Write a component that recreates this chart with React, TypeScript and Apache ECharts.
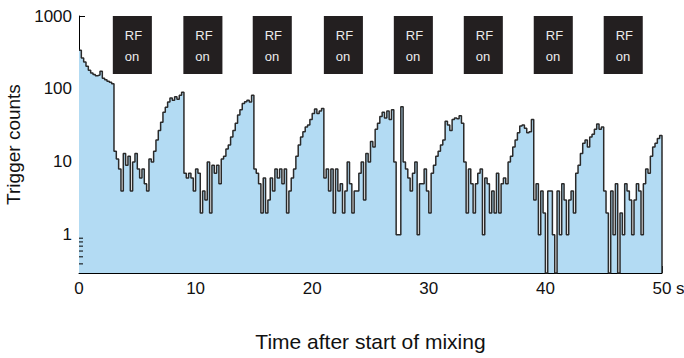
import React, { useEffect, useRef } from 'react';
import * as echarts from 'echarts';

// Histogram bin width (seconds)
const binWidth = 0.2;

// Trigger counts per 0.2 s bin (0 = empty bin)
const initialCounts = [340, 265, 235, 205, 180, 165, 158, 152, 155, 175, 140, 134, 128, 124, 118];
const cycle1 = [14, 11, 8, 4, 13, 9, 12, 4, 10, 13, 8, 6, 8, 5, 4, 11, 10, 14, 20, 27, 35, 48, 56, 66, 75, 70, 78, 72, 82, 90];
const cycle2 = [7, 6, 7, 6, 4, 8, 7, 2, 4, 3, 10, 2, 9, 7, 9, 5, 11, 12, 15, 17, 22, 27, 34, 44, 52, 63, 67, 70, 66, 82];
const cycle3 = [8, 7, 5, 2, 6, 2, 3, 6, 4, 8, 6, 8, 5, 8, 2, 4, 6, 8, 12, 17, 22, 26, 30, 32, 38, 46, 53, 46, 50, 54];
const cycle4 = [6, 8, 4, 8, 2, 8, 4, 5, 2, 4, 10, 5, 2, 4, 4, 7, 10, 3, 13, 10, 19, 16, 28, 34, 42, 48, 40, 50, 38, 52];
const cycle5 = [10, 1, 1, 57, 10, 8, 6, 4, 7, 10, 1, 5, 5, 8, 4, 2, 7, 9, 12, 14, 17, 20, 36, 32, 27, 38, 40, 39, 43, 34];
const cycle6 = [10, 2, 8, 5, 2, 5, 7, 8, 1, 6, 5, 2, 4, 2, 7, 2, 5, 6, 5, 10, 12, 16, 20, 25, 31, 32, 29, 25, 26, 38];
const cycle7 = [3, 5, 1, 4, 2, 0, 4, 4, 1, 0, 4, 1, 5, 3, 1, 3, 4, 2, 7, 9, 13, 18, 20, 16, 22, 24, 28, 33, 28, 30];
const finalCounts = [4, 2, 0, 4, 1, 5, 0, 2, 1, 5, 4, 3, 1, 3, 5, 4, 1, 5, 8, 7, 12, 16, 18, 21, 23];

// "RF on" periods (seconds)
const rfStart = [2.9, 8.95, 14.9, 21.0, 27.0, 33.0, 39.0, 45.0];
const rfEnd = [6.25, 12.3, 18.25, 24.35, 30.35, 36.35, 42.35, 48.35];

// Axis extents and ticks
const xMin = 0;
const xMax = 50;
const xInterval = 10;
const yMin = 0.3;
const yMax = 1000;
const yMinorTicks = [0.4, 0.5, 0.6, 0.7, 0.8, 0.9];

const FONT = 'Liberation Sans, Arial, Helvetica, sans-serif';

export default function App() {
  const ref = useRef<HTMLDivElement>(null);

  useEffect(() => {
    if (!ref.current) return;
    const chart = echarts.init(ref.current, null, { renderer: 'svg' });

    const counts = [
      ...initialCounts, ...cycle1, ...cycle2, ...cycle3, ...cycle4,
      ...cycle5, ...cycle6, ...cycle7, ...finalCounts,
    ];
    const lineData: number[][] = counts.map((c, i) => [i * binWidth, c > 0 ? c : yMin]);
    const endT = counts.length * binWidth;
    const lastVal = counts[counts.length - 1];
    lineData.push([endT, lastVal > 0 ? lastVal : yMin]);
    lineData.push([endT, yMin]);

    const option: any = {
      animation: false,
      backgroundColor: '#ffffff',
      grid: { left: 79, right: 22, top: 16, bottom: 85, outerBoundsMode: 'none', containLabel: false },
      xAxis: {
        type: 'value',
        min: xMin,
        max: xMax,
        interval: xInterval,
        name: 'Time after start of mixing',
        nameLocation: 'middle',
        nameGap: 58,
        nameTextStyle: { fontFamily: FONT, fontSize: 21, color: '#111' },
        axisLine: { show: true, onZero: false, lineStyle: { color: '#000', width: 1 } },
        axisTick: { show: true, inside: true, length: 7, lineStyle: { color: '#000', width: 1 } },
        minorTick: { show: true, splitNumber: 5, length: 4, lineStyle: { color: '#000', width: 1 } },
        splitLine: { show: false },
        minorSplitLine: { show: false },
        axisLabel: {
          fontFamily: FONT,
          fontSize: 17,
          color: '#111',
          margin: 7,
          formatter: (v: number) => (v === xMax ? '{p|}' + v + ' s' : String(v)),
          rich: { p: { width: 13, fontSize: 17, fontFamily: FONT } },
        },
      },
      yAxis: {
        type: 'log',
        logBase: 10,
        min: yMin,
        max: yMax,
        name: 'Trigger counts',
        nameLocation: 'middle',
        nameGap: 50,
        nameTextStyle: { fontFamily: FONT, fontSize: 19, color: '#111' },
        axisLine: { show: true, lineStyle: { color: '#000', width: 1 } },
        axisTick: { show: true, inside: true, length: 6, lineStyle: { color: '#000', width: 1 } },
        splitLine: { show: false },
        axisLabel: {
          fontFamily: FONT,
          fontSize: 17,
          color: '#111',
          margin: 7,
          showMinLabel: false,
          formatter: (v: number) => {
            const e = Math.log10(v);
            return Math.abs(e - Math.round(e)) < 1e-6 ? String(Math.round(v)) : '';
          },
        },
      },
      series: [
        {
          type: 'line',
          data: lineData,
          step: 'end',
          showSymbol: false,
          symbol: 'none',
          lineStyle: { color: '#2a2a2a', width: 1.5 },
          areaStyle: { color: '#b3dbf3', opacity: 1, origin: 'start' },
          z: 2,
        },
        {
          type: 'custom',
          data: yMinorTicks.map((v) => [xMin, v]),
          encode: { x: 0, y: 1 },
          z: 5,
          renderItem: (_params: any, api: any) => {
            const p = api.coord([api.value(0), api.value(1)]);
            return {
              type: 'line',
              shape: { x1: p[0], y1: p[1], x2: p[0] + 4, y2: p[1] },
              style: { stroke: '#000', lineWidth: 1 },
            };
          },
        },
        {
          type: 'custom',
          data: rfStart.map((s, i) => [s, rfEnd[i], yMax]),
          encode: { x: [0, 1], y: 2 },
          z: 6,
          renderItem: (_params: any, api: any) => {
            const p0 = api.coord([api.value(0), api.value(2)]);
            const p1 = api.coord([api.value(1), api.value(2)]);
            return {
              type: 'group',
              children: [
                {
                  type: 'rect',
                  shape: { x: p0[0], y: p0[1], width: p1[0] - p0[0], height: 58 },
                  style: { fill: '#231f20' },
                },
                {
                  type: 'text',
                  x: p0[0] + 12,
                  y: p0[1] + 19,
                  style: {
                    text: 'RF', fill: '#ececec', fontSize: 13, fontFamily: FONT,
                    verticalAlign: 'middle', align: 'left',
                  },
                },
                {
                  type: 'text',
                  x: p0[0] + 12,
                  y: p0[1] + 40,
                  style: {
                    text: 'on', fill: '#ececec', fontSize: 13, fontFamily: FONT,
                    verticalAlign: 'middle', align: 'left',
                  },
                },
              ],
            };
          },
        },
      ],
    };

    chart.setOption(option);
    return () => chart.dispose();
  }, []);

  return (
    <div
      ref={ref}
      style={{ position: 'absolute', left: 0, top: 0, width: 684, height: 358 }}
    />
  );
}
